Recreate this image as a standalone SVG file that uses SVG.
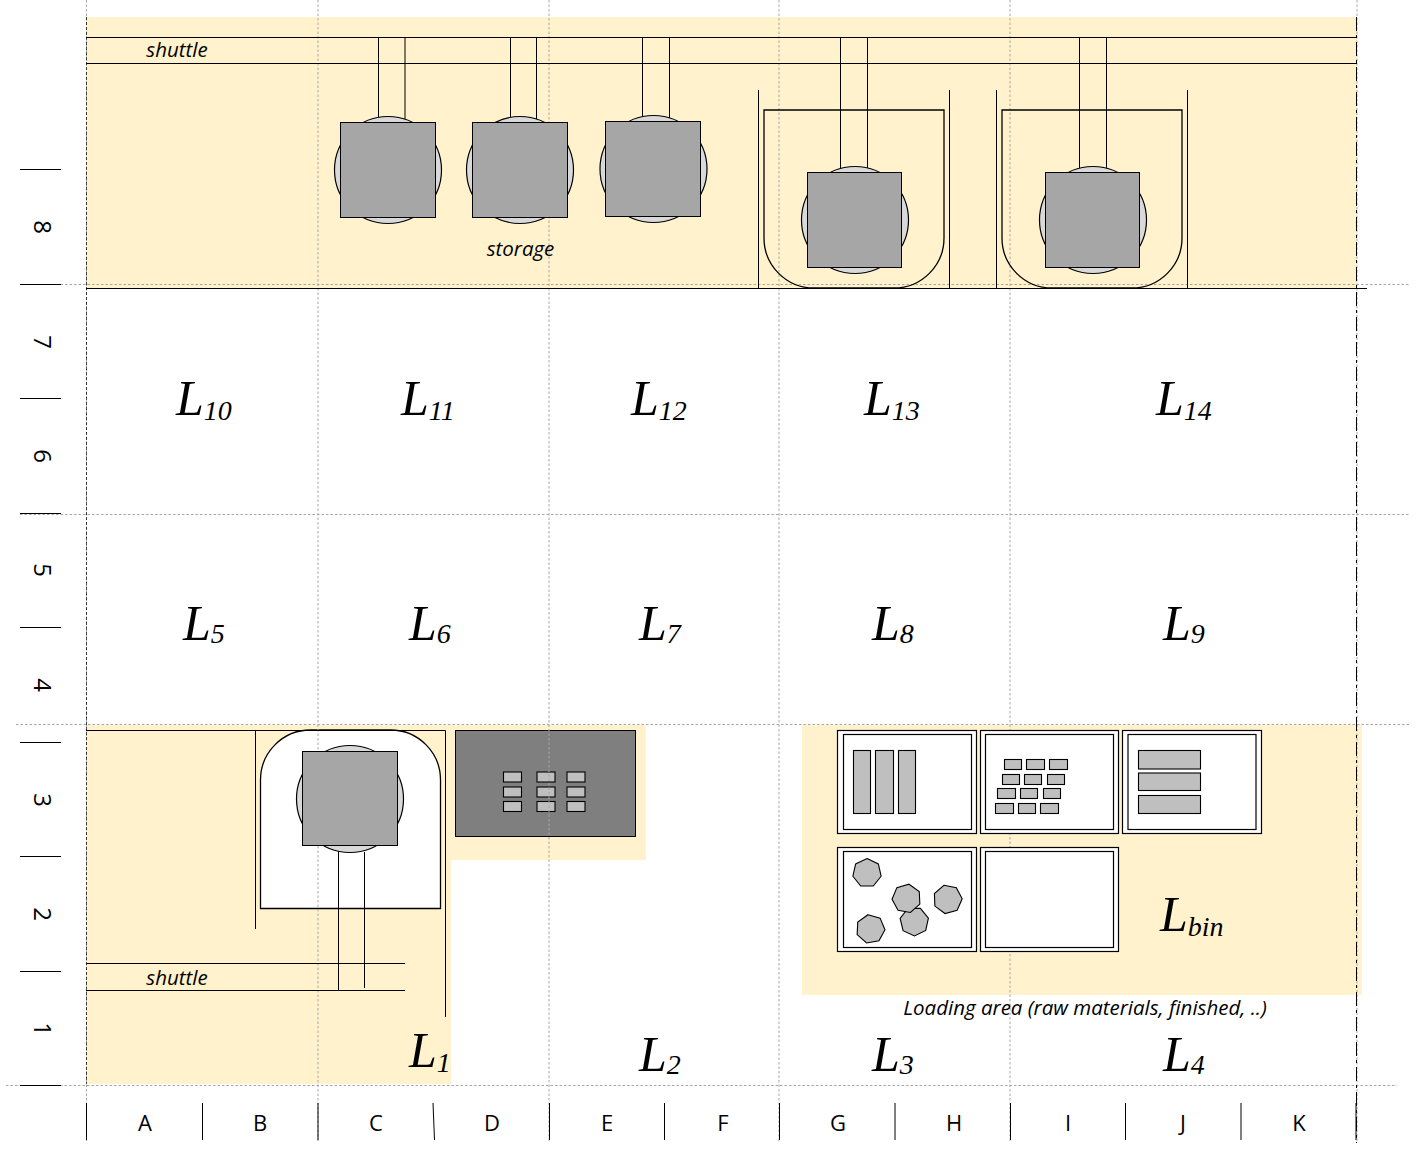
<svg xmlns="http://www.w3.org/2000/svg" width="1426" height="1166" viewBox="0 0 1426 1166">
<style>
text{fill:#000}
.grid{stroke:#a6a6a6;stroke-width:1;stroke-dasharray:2.5 2;fill:none}
.ln{stroke:#000;stroke-width:1;fill:none}
.zone{fill:#fff2cc}
.u{stroke:#000;stroke-width:1.3}
.circ{fill:#d9d9d9;stroke:#000;stroke-width:1.2}
.sq{fill:#a6a6a6;stroke:#000;stroke-width:1}
.bin{fill:#fff;stroke:#000;stroke-width:1.2}
.it{fill:#bfbfbf;stroke:#000;stroke-width:1.1}
.lab{font-family:"Open Sans","Noto Sans",sans-serif;font-style:italic;font-size:20.5px;text-anchor:middle}
.ax{font-family:"Open Sans","Noto Sans",sans-serif;font-size:22px;text-anchor:middle}
.rw{font-size:24px}
.L{font-family:"Liberation Serif",serif;font-style:italic;font-size:50px}
.L tspan{font-size:28px}
</style>
<defs>
<polygon id="hept" class="it" points="0,-14.5 11.34,-9.04 14.14,3.23 6.29,13.06 -6.29,13.06 -14.14,3.23 -11.34,-9.04"/>
</defs>
<rect width="1426" height="1166" fill="#fff"/>
<g id="zones">
<rect class="zone" x="86" y="17" width="1271" height="271"/>
<path class="zone" d="M86 725H646V860H451V1084H86Z"/>
<rect class="zone" x="802" y="725" width="560" height="270"/>
</g>
<g id="machine-body"><rect x="455.500" y="730.500" width="180" height="106" fill="#7f7f7f" stroke="#000"/>
<rect class="it" x="503.500" y="772" width="18" height="10"/><rect class="it" x="537" y="772" width="18" height="10"/><rect class="it" x="567" y="772" width="18" height="10"/>
<rect class="it" x="503.500" y="787" width="18" height="10"/><rect class="it" x="537" y="787" width="18" height="10"/><rect class="it" x="567" y="787" width="18" height="10"/>
<rect class="it" x="503.500" y="801.500" width="18" height="10"/><rect class="it" x="537" y="801.500" width="18" height="10"/><rect class="it" x="567" y="801.500" width="18" height="10"/>
</g>
<g id="cell-frame-lower">
<path class="u" fill="#fff" d="M260.500 908.500H440.500V780A50 50 0 0 0 390.500 730H310.500A50 50 0 0 0 260.500 780Z"/>
</g>
<g id="grid">
<path class="grid" d="M86.500 0V1143M318 0V1143M549 0V1143M779 0V1143M1010 0V1143M1357 0V1143"/>
<path class="grid" d="M20 284.500H1410M20 514.500H1410M16 724.500H1410M6 1085.500H1397"/>
</g>
<g id="top-shuttle">
<path class="ln" d="M86 37.500H1357M86 63.500H1357"/>
<path class="ln" d="M378.500 37V120M405 37V120M510.500 37V120M536.500 37V120M642.500 37V118M669.500 37V118M840.500 37V168M867.500 37V168M1079.500 37V168M1106.500 37V168"/>
<text class="lab" x="177" y="57">shuttle</text>
</g>
<g id="storage-1"><circle class="circ" cx="388" cy="170" r="53.500"/><rect class="sq" x="340.500" y="122.500" width="95" height="95"/></g>
<g id="storage-2"><circle class="circ" cx="520" cy="170" r="53.500"/><rect class="sq" x="472.500" y="122.500" width="95" height="95"/></g>
<g id="storage-3"><circle class="circ" cx="653.500" cy="169" r="53.500"/><rect class="sq" x="605.500" y="121.500" width="95" height="95"/></g>
<g id="storage-label"><text class="lab" x="520.500" y="256">storage</text></g>
<g id="cell-4">
<path class="ln" d="M758.500 90V288M949.500 90V288"/>
<path class="u" fill="none" d="M764 110H944V238A50 50 0 0 1 894 288H814A50 50 0 0 1 764 238Z"/>
<circle class="circ" cx="855" cy="220" r="53.500"/><rect class="sq" x="807.500" y="172.500" width="94" height="95"/>
</g>
<g id="cell-5">
<path class="ln" d="M996.500 90V288M1187.500 90V288"/>
<path class="u" fill="none" d="M1002 110H1182V238A50 50 0 0 1 1132 288H1052A50 50 0 0 1 1002 238Z"/>
<circle class="circ" cx="1093" cy="220" r="53.500"/><rect class="sq" x="1045.500" y="172.500" width="94" height="95"/>
</g>
<g id="bottom-cell">
<path class="ln" d="M86 730.500H445.500V1017M255.500 730.500V929"/>
<path class="ln" d="M338.500 846V990M364.500 852V988M86 963.500H405M86 990.500H405"/>
<circle class="circ" cx="350" cy="799" r="53.500"/><rect class="sq" x="302.500" y="751.500" width="95" height="94"/>
<text class="lab" x="177" y="985">shuttle</text>
</g>
<g id="bin-1">
<rect class="bin" x="837.500" y="730.500" width="139" height="103"/><rect class="bin" x="843.500" y="734.500" width="128" height="95"/>
<rect class="it" x="853.500" y="750.500" width="17" height="63"/><rect class="it" x="875.500" y="750.500" width="18" height="63"/><rect class="it" x="898.500" y="750.500" width="17" height="63"/>
</g>
<g id="bin-2">
<rect class="bin" x="980.500" y="730.500" width="138" height="103"/><rect class="bin" x="985.500" y="734.500" width="128" height="95"/>
<rect class="it" x="1004.500" y="759.500" width="17" height="10"/><rect class="it" x="1026.500" y="759.500" width="18" height="10"/><rect class="it" x="1049.500" y="759.500" width="18" height="10"/>
<rect class="it" x="1002.500" y="774.500" width="17" height="10"/><rect class="it" x="1024.500" y="774.500" width="17" height="10"/><rect class="it" x="1047.500" y="774.500" width="17" height="10"/>
<rect class="it" x="997.500" y="788.500" width="18" height="10"/><rect class="it" x="1020.500" y="788.500" width="17" height="10"/><rect class="it" x="1043.500" y="788.500" width="17" height="10"/>
<rect class="it" x="995.500" y="803.500" width="18" height="10"/><rect class="it" x="1018.500" y="803.500" width="17" height="10"/><rect class="it" x="1040.500" y="803.500" width="18" height="10"/>
</g>
<g id="bin-3">
<rect class="bin" x="1122.500" y="730.500" width="139" height="103"/><rect class="bin" x="1128" y="734.500" width="128" height="95"/>
<rect class="it" x="1138.500" y="750.500" width="62" height="18.500"/><rect class="it" x="1138.500" y="773" width="62" height="17.500"/><rect class="it" x="1138.500" y="795.500" width="62" height="18"/>
</g>
<g id="bin-4">
<rect class="bin" x="837.500" y="847.500" width="139" height="104"/><rect class="bin" x="843.500" y="851.500" width="128" height="96"/>
<use href="#hept" transform="translate(867 873)"/>
<use href="#hept" transform="translate(914.300 921.500) rotate(25)"/>
<use href="#hept" transform="translate(906.500 898.500) rotate(10)"/>
<use href="#hept" transform="translate(947.700 899.300) rotate(-15)"/>
<use href="#hept" transform="translate(870.500 929) rotate(-10)"/>
</g>
<g id="bin-5">
<rect class="bin" x="980.500" y="847.500" width="138" height="104"/><rect class="bin" x="985.500" y="851.500" width="128" height="96"/>
</g>
<g id="frame">
<path class="ln" d="M86 288.500H1367"/>
<path d="M1356.500 17V1143" stroke="#000" stroke-width="1" stroke-dasharray="14 4 3 4" fill="none"/>
<path d="M86.500 17V1084" stroke="#000" stroke-width="1" stroke-dasharray="3 2" fill="none" opacity=".7"/>
</g>
<g id="area-labels">
<text class="L" x="176" y="415">L<tspan dy="5">10</tspan></text>
<text class="L" x="401" y="415">L<tspan dy="5">11</tspan></text>
<text class="L" x="631" y="415">L<tspan dy="5">12</tspan></text>
<text class="L" x="864" y="415">L<tspan dy="5">13</tspan></text>
<text class="L" x="1156" y="415">L<tspan dy="5">14</tspan></text>
<text class="L" x="183" y="640">L<tspan dy="3">5</tspan></text>
<text class="L" x="409" y="640">L<tspan dy="3">6</tspan></text>
<text class="L" x="639" y="640">L<tspan dy="3">7</tspan></text>
<text class="L" x="872" y="640">L<tspan dy="3">8</tspan></text>
<text class="L" x="1163" y="640">L<tspan dy="3">9</tspan></text>
<text class="L" x="409" y="1067">L<tspan dy="5">1</tspan></text>
<text class="L" x="639" y="1071">L<tspan dy="3">2</tspan></text>
<text class="L" x="872" y="1071">L<tspan dy="3">3</tspan></text>
<text class="L" x="1163" y="1071">L<tspan dy="3">4</tspan></text>
<text class="L" x="1160" y="931">L<tspan dy="5">bin</tspan></text>
<text class="lab" x="1085" y="1015">Loading area (raw materials, finished, ..)</text>
</g>
<g id="axis-rows">
<path class="ln" d="M20 169.500H61M20 284.500H61M20 398.500H61M20 513.500H61M20 627.500H61M20 742.500H61M20 856.500H61M20 971.500H61M20 1085.500H61"/>
<text class="ax rw" transform="translate(34 227) rotate(90)">8</text>
<text class="ax rw" transform="translate(34 342) rotate(90)">7</text>
<text class="ax rw" transform="translate(34 456) rotate(90)">6</text>
<text class="ax rw" transform="translate(34 570) rotate(90)">5</text>
<text class="ax rw" transform="translate(34 685) rotate(90)">4</text>
<text class="ax rw" transform="translate(34 800) rotate(90)">3</text>
<text class="ax rw" transform="translate(34 914) rotate(90)">2</text>
<text class="ax rw" transform="translate(34 1029) rotate(90)">1</text>
</g>
<g id="axis-cols">
<path class="ln" d="M86.500 1103V1140M202.500 1103V1140M318 1103V1140M433 1103L434.500 1140M549.500 1103V1140M664.500 1103V1140M779.500 1103V1140M895 1103V1140M1010.500 1103V1140M1125.500 1103V1140M1241 1103V1140M1356 1103V1140"/>
<text class="ax" x="145" y="1131">A</text>
<text class="ax" x="260" y="1131">B</text>
<text class="ax" x="376" y="1131">C</text>
<text class="ax" x="492" y="1131">D</text>
<text class="ax" x="607" y="1131">E</text>
<text class="ax" x="723" y="1131">F</text>
<text class="ax" x="838" y="1131">G</text>
<text class="ax" x="954" y="1131">H</text>
<text class="ax" x="1068" y="1131">I</text>
<text class="ax" x="1183" y="1131">J</text>
<text class="ax" x="1299" y="1131">K</text>
</g>
</svg>
